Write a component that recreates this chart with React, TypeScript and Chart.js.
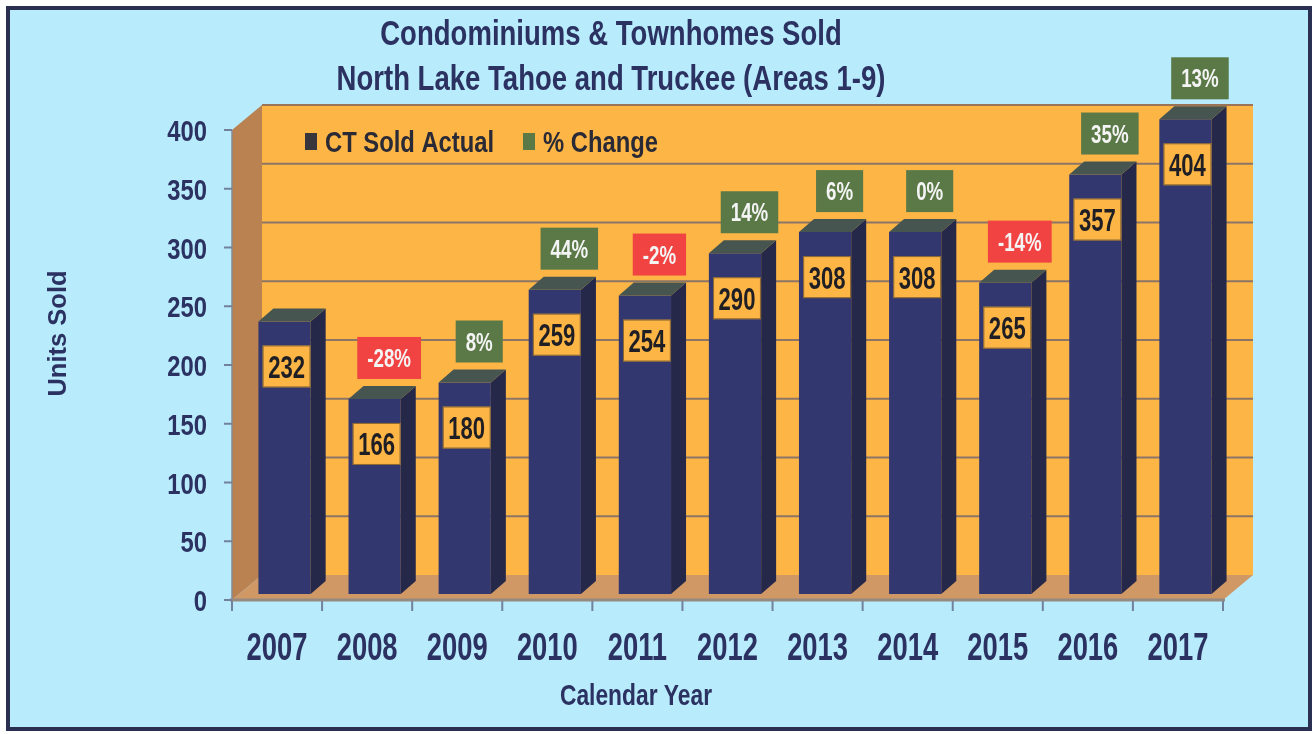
import { useEffect, useRef } from 'react';
import { Chart, registerables } from 'chart.js';

Chart.register(...registerables);

const categories = ['2007', '2008', '2009', '2010', '2011', '2012', '2013', '2014', '2015', '2016', '2017'];
const unitsSold = [232, 166, 180, 259, 254, 290, 308, 308, 265, 357, 404];
const pctChange: (number | null)[] = [null, -28, 8, 44, -2, 14, 6, 0, -14, 35, 13];
const yTicks = [0, 50, 100, 150, 200, 250, 300, 350, 400];
const titleLines = ['Condominiums & Townhomes Sold', 'North Lake Tahoe and Truckee (Areas 1-9)'];
const legendLabels = ['CT Sold Actual', '% Change'];
const yAxisTitle = 'Units Sold';
const xAxisTitle = 'Calendar Year';

const W = 1315;
const H = 734;
const DX = 30;
const DY = -25;
const SHIFT_X = 7.5;
const SHIFT_Y = -6;
const BDX = 15;
const BDY = -13;

const NAVY = '#2b3160';
const ORANGE = '#fdb646';
const GREEN = '#5b7946';
const RED = '#f24343';
const FONT = '"Liberation Sans", Arial, sans-serif';

function setFont(ctx: CanvasRenderingContext2D, size: number, weight = 'bold') {
  ctx.font = `${weight} ${size}px ${FONT}`;
}

function measure(ctx: CanvasRenderingContext2D, s: string, size: number, sx: number) {
  ctx.save();
  setFont(ctx, size);
  const w = ctx.measureText(s).width * sx;
  ctx.restore();
  return w;
}

function txt(
  ctx: CanvasRenderingContext2D,
  s: string,
  x: number,
  y: number,
  size: number,
  sx: number,
  sy: number,
  color: string,
  align: CanvasTextAlign = 'center'
) {
  ctx.save();
  ctx.translate(x, y);
  ctx.scale(sx, sy);
  setFont(ctx, size);
  ctx.fillStyle = color;
  ctx.textAlign = align;
  ctx.textBaseline = 'alphabetic';
  ctx.fillText(s, 0, 0);
  ctx.restore();
}

function poly(ctx: CanvasRenderingContext2D, pts: number[][], fill: string) {
  ctx.beginPath();
  ctx.moveTo(pts[0][0], pts[0][1]);
  for (let i = 1; i < pts.length; i++) ctx.lineTo(pts[i][0], pts[i][1]);
  ctx.closePath();
  ctx.fillStyle = fill;
  ctx.fill();
}

function line(ctx: CanvasRenderingContext2D, x1: number, y1: number, x2: number, y2: number, color: string, w: number) {
  ctx.beginPath();
  ctx.moveTo(x1, y1);
  ctx.lineTo(x2, y2);
  ctx.strokeStyle = color;
  ctx.lineWidth = w;
  ctx.stroke();
}

const threeD = {
  id: 'threeD',
  beforeDraw(chart: any) {
    const ctx: CanvasRenderingContext2D = chart.ctx;
    const { left: L, right: R } = chart.chartArea;
    const ys = chart.scales.y;
    const xs = chart.scales.x;
    const y0 = ys.getPixelForValue(yTicks[0]);
    const yTop = ys.getPixelForValue(yTicks[yTicks.length - 1]);

    ctx.save();
    ctx.fillStyle = '#ffffff';
    ctx.fillRect(0, 0, W, H);
    ctx.fillStyle = '#b8ebfb';
    ctx.fillRect(8, 8, 1302, 721);
    ctx.strokeStyle = '#2b3052';
    ctx.lineWidth = 4;
    ctx.strokeRect(8, 8, 1302, 721);

    // back wall
    poly(ctx, [[L + DX, yTop + DY], [R + DX, yTop + DY], [R + DX, y0 + DY], [L + DX, y0 + DY]], ORANGE);
    for (const v of yTicks) {
      if (v === yTicks[0]) continue;
      const py = ys.getPixelForValue(v) + DY;
      line(ctx, L + DX, py, R + DX, py, v === yTicks[yTicks.length - 1] ? '#9a7456' : '#8c7566', 2);
    }
    // side wall
    poly(ctx, [[L, y0], [L, yTop], [L + DX, yTop + DY], [L + DX, y0 + DY]], '#b98250');
    // floor
    poly(ctx, [[L, y0], [R, y0], [R + DX, y0 + DY], [L + DX, y0 + DY]], '#cf9865');
    line(ctx, L - 2, y0, R + 2, y0, '#968a80', 3);
    line(ctx, L, yTop, L, y0, '#8a8a92', 1.5);

    // axis ticks
    const n = categories.length;
    for (let k = 0; k <= n; k++) {
      const px = L + (k * (R - L)) / n;
      line(ctx, px, y0 + 1, px, y0 + 11, '#71829a', 2);
    }
    for (const v of yTicks) {
      const py = ys.getPixelForValue(v);
      line(ctx, L - 8, py, L, py, '#71829a', 2);
      txt(ctx, String(v), 207, py + 11, 29, 0.82, 1, NAVY, 'right');
    }
    categories.forEach((c, i) => {
      txt(ctx, c, xs.getPixelForValue(i), 660, 38, 0.72, 1, NAVY, 'center');
    });

    // axis titles
    ctx.save();
    ctx.translate(66, 333.5);
    ctx.rotate(-Math.PI / 2);
    txt(ctx, yAxisTitle, 0, 0, 25, 1.02, 1, NAVY, 'center');
    ctx.restore();
    txt(ctx, xAxisTitle, 636, 705, 30, 0.76, 1, NAVY, 'center');

    // title
    txt(ctx, titleLines[0], 611, 45, 34, 0.81, 1.03, NAVY, 'center');
    txt(ctx, titleLines[1], 611, 90, 34, 0.81, 1.03, NAVY, 'center');

    // legend
    ctx.fillStyle = '#36363c';
    ctx.fillRect(305, 133, 12, 17);
    txt(ctx, legendLabels[0], 325, 152, 29, 0.82, 1, '#2a2a36', 'left');
    ctx.fillStyle = GREEN;
    ctx.fillRect(523, 133, 12, 17);
    txt(ctx, legendLabels[1], 543, 152, 29, 0.82, 1, '#2a2a36', 'left');
    ctx.restore();
  },
  beforeDatasetsDraw(chart: any) {
    chart.ctx.save();
    chart.ctx.translate(SHIFT_X, SHIFT_Y);
  },
  afterDatasetsDraw(chart: any) {
    const ctx: CanvasRenderingContext2D = chart.ctx;
    const meta = chart.getDatasetMeta(0);
    meta.data.forEach((el: any) => {
      const { x, y, base, width } = el.getProps(['x', 'y', 'base', 'width'], true);
      const l = x - width / 2;
      const r = x + width / 2;
      poly(ctx, [[r, y], [r + BDX, y + BDY], [r + BDX, base + BDY], [r, base]], '#26284a');
      poly(ctx, [[l, y], [l + BDX, y + BDY], [r + BDX, y + BDY], [r, y]], '#465550');
    });
    ctx.restore();

    meta.data.forEach((el: any, i: number) => {
      const { x, y } = el.getProps(['x', 'y'], true);
      // value box
      const s = String(unitsSold[i]);
      const tw = measure(ctx, s, 32, 0.69);
      const bw = tw + 11;
      const bh = 42;
      const cx = x + SHIFT_X + 2;
      const cy = y + SHIFT_Y + 45;
      ctx.fillStyle = ORANGE;
      ctx.fillRect(cx - bw / 2, cy - bh / 2, bw, bh);
      ctx.strokeStyle = 'rgba(90,70,40,0.7)';
      ctx.lineWidth = 1;
      ctx.strokeRect(cx - bw / 2 + 0.5, cy - bh / 2 + 0.5, bw - 1, bh - 1);
      txt(ctx, s, cx, cy + 11.5, 32, 0.69, 1, '#1e1e24', 'center');

      // percent box
      const p = pctChange[i];
      if (p !== null && p !== undefined) {
        const ps = `${p}%`;
        const pw = measure(ctx, ps, 25, 0.75) + 20;
        const ph = 42;
        const pcx = x + 22;
        const pcy = y - 26 - ph / 2;
        ctx.fillStyle = p < 0 ? RED : GREEN;
        ctx.fillRect(pcx - pw / 2, pcy - ph / 2, pw, ph);
        txt(ctx, ps, pcx, pcy + 9, 25, 0.75, 1, '#f4f4f4', 'center');
      }
    });
  },
};

export default function App() {
  const ref = useRef<HTMLCanvasElement | null>(null);
  useEffect(() => {
    if (!ref.current) return;
    const chart = new Chart(ref.current, {
      type: 'bar',
      data: {
        labels: categories,
        datasets: [
          {
            label: legendLabels[0],
            data: unitsSold,
            backgroundColor: '#32386f',
            borderWidth: 0,
            barPercentage: 0.58,
            categoryPercentage: 1,
            clip: false,
          } as any,
        ],
      },
      options: {
        responsive: false,
        animation: false,
        devicePixelRatio: 1,
        layout: { padding: { left: 232, right: W - 1223, top: 130, bottom: H - 600 } },
        plugins: { legend: { display: false }, tooltip: { enabled: false }, title: { display: false } },
        scales: {
          x: { type: 'category', display: false },
          y: { min: yTicks[0], max: yTicks[yTicks.length - 1], display: false },
        },
      },
      plugins: [threeD],
    });
    return () => chart.destroy();
  }, []);
  return (
    <div style={{ position: 'fixed', left: 0, top: 0, width: W, height: H }}>
      <canvas ref={ref} width={W} height={H} style={{ display: 'block', width: W, height: H }} />
    </div>
  );
}
